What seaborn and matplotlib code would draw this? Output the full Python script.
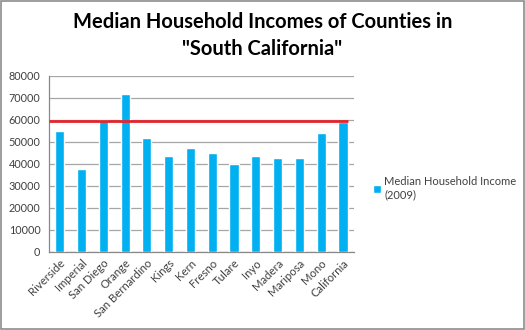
import matplotlib
matplotlib.use("Agg")
import matplotlib.pyplot as plt
import seaborn as sns
import pandas as pd
from matplotlib.patches import Rectangle

counties = ["Riverside", "Imperial", "San Diego", "Orange", "San Bernardino", "Kings",
            "Kern", "Fresno", "Tulare", "Inyo", "Madera", "Mariposa", "Mono", "California"]
incomes = [55000, 37800, 59800, 71700, 51800, 43600, 47000, 45000, 39900, 43600,
           42600, 42600, 53900, 59100]
california_median = 59300
y_ticks = [0, 10000, 20000, 30000, 40000, 50000, 60000, 70000, 80000]
series_label = "Median Household Income\n(2009)"
title = "Median Household Incomes of Counties in\n\"South California\""

df = pd.DataFrame({"County": counties, "Income": incomes})

sns.set_style("white")
plt.rcParams["font.family"] = ["Lato", "DejaVu Sans"]

fig = plt.figure(figsize=(5.25, 3.3), dpi=100)
ax = fig.add_axes([0.093, 0.237, 0.581, 0.533])

sns.barplot(data=df, x="County", y="Income", color="#00B0F0", width=0.42,
            saturation=1, ax=ax, label=series_label, zorder=3)
handles, labels = ax.get_legend_handles_labels()
if ax.get_legend() is not None:
    ax.get_legend().remove()

n = len(counties)
ax.hlines(california_median, -0.5, n - 1 + 0.21, color="#E3262E", lw=2.0, zorder=4)

ax.set_xlim(-0.5, n - 0.5)
ax.set_ylim(0, 80000)
ax.set_yticks(y_ticks)
ax.set_yticklabels([str(v) for v in y_ticks], fontsize=7.8, color="#404040")
ax.set_xticks(range(n))
ax.set_xticklabels(counties, rotation=45, ha="right", rotation_mode="anchor",
                   fontsize=8.2, color="#404040")
ax.set_xlabel("")
ax.set_ylabel("")
ax.grid(axis="y", color="#A6A6A6", lw=0.9, zorder=0)
for s in ["top", "right"]:
    ax.spines[s].set_visible(False)
ax.spines["left"].set_color("#888888")
ax.spines["bottom"].set_color("#888888")
ax.spines["left"].set_linewidth(0.9)
ax.spines["bottom"].set_linewidth(0.9)

ax.tick_params(axis="x", which="major", length=0, pad=4)
ax.set_xticks([i - 0.5 for i in range(n + 1)], minor=True)
ax.tick_params(axis="x", which="minor", length=4, color="#888888", direction="out")
ax.tick_params(axis="y", length=4, color="#888888", direction="out", pad=2)

fig.text(0.5, 0.893, title, ha="center", va="center", fontsize=14.5,
         fontweight="bold", color="#000000", linespacing=1.45)

leg = fig.legend(handles, labels, loc="center left", bbox_to_anchor=(0.702, 0.43),
                 frameon=False, fontsize=8, handlelength=0.7, handleheight=0.7,
                 handletextpad=0.3, borderaxespad=0)
for t in leg.get_texts():
    t.set_color("#404040")

fig.patches.append(Rectangle((0.001, 0.002), 0.997, 0.995, transform=fig.transFigure,
                             fill=False, edgecolor="#8C8C8C", lw=1.2))

fig.savefig("out.png", dpi=100)
